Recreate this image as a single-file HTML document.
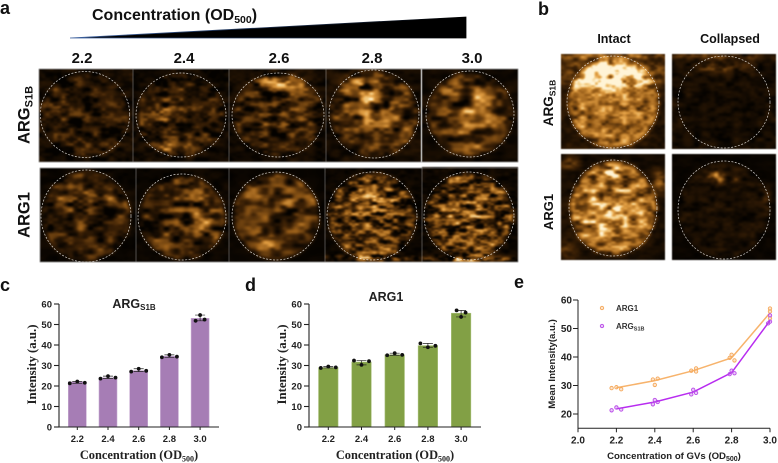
<!DOCTYPE html>
<html lang="en">
<head>
<meta charset="utf-8">
<title>Concentration-dependent ultrasound intensity figure</title>
<style>
html,body{margin:0;padding:0;background:#fff;}
#figure{position:relative;width:778px;height:463px;overflow:hidden;background:#fff;font-family:"Liberation Sans",sans-serif;}
#figure canvas{position:absolute;display:block;filter:blur(0.5px);}
#overlay{position:absolute;left:0;top:0;filter:blur(0.3px);}
</style>
</head>
<body>
<div id="figure">
<svg id="overlay" width="778" height="463" viewBox="0 0 778 463" xmlns="http://www.w3.org/2000/svg">
  <defs>
    <linearGradient id="wedgeEdge" x1="0" x2="1" y1="0" y2="0">
      <stop offset="0" stop-color="#3a5f9e"/><stop offset="1" stop-color="#000"/>
    </linearGradient>
  </defs>
  <g font-family="'Liberation Sans',sans-serif" fill="#111">
    <text x="0" y="14" font-size="18" font-weight="bold">a</text>
    <text x="538" y="15" font-size="18" font-weight="bold">b</text>
    <text x="0" y="291" font-size="18" font-weight="bold">c</text>
    <text x="245" y="291" font-size="18" font-weight="bold">d</text>
    <text x="514" y="288" font-size="18" font-weight="bold">e</text>

    <text x="92" y="20" font-size="16" font-weight="bold">Concentration (OD<tspan font-size="10.5" dy="3">500</tspan><tspan dy="-3">)</tspan></text>
    <polygon points="70,38 466,17 466,38" fill="#000" stroke="url(#wedgeEdge)" stroke-width="0.8"/>

    <g font-size="15" font-weight="bold" text-anchor="middle">
      <text x="82" y="63">2.2</text>
      <text x="184" y="63">2.4</text>
      <text x="279" y="63">2.6</text>
      <text x="372" y="63">2.8</text>
      <text x="472" y="63">3.0</text>
    </g>
    <text transform="translate(29.5,115) rotate(-90)" text-anchor="middle" font-size="16.5" font-weight="bold">ARG<tspan font-size="11" dy="3">S1B</tspan></text>
    <text transform="translate(29.5,215) rotate(-90)" text-anchor="middle" font-size="16.5" font-weight="bold">ARG1</text>

    <text x="614" y="43" text-anchor="middle" font-size="12.5" font-weight="bold">Intact</text>
    <text x="730" y="43" text-anchor="middle" font-size="12.5" font-weight="bold">Collapsed</text>
    <text transform="translate(553,103) rotate(-90)" text-anchor="middle" font-size="13.5" font-weight="bold">ARG<tspan font-size="8.5" dy="2.5">S1B</tspan></text>
    <text transform="translate(553,212) rotate(-90)" text-anchor="middle" font-size="13" font-weight="bold">ARG1</text>
  </g>
  <g id="circles"></g>
  <g id="chart-c"></g>
  <g id="chart-d"></g>
  <g id="chart-e"></g>
</svg>
</div>

<script>
/* ---------- chart data ---------- */
var categories = ["2.2", "2.4", "2.6", "2.8", "3.0"];
var yTicksBar = [0, 10, 20, 30, 40, 50, 60];
var args1bMeans = [22, 24, 27.5, 34.5, 53];
var args1bReps = [[21.3, 22.2, 21.6], [23.6, 24.8, 24.1], [27, 28.4, 27.4], [34, 35.2, 34.3], [51.8, 54.6, 52.4]];
var arg1Means = [29, 31.7, 35.2, 39.7, 55.5];
var arg1Reps = [[28.8, 29.5, 29.1], [32.4, 30.3, 32.1], [35, 36, 35.2], [40.8, 38.9, 39.6], [56.9, 53.7, 55.8]];

var lineXTicks = [2.0, 2.2, 2.4, 2.6, 2.8, 3.0];
var lineYTicks = [20, 30, 40, 50, 60];
var lineX = [2.2, 2.4, 2.6, 2.8, 3.0];
var arg1Line = [29.2, 31.7, 35.2, 39.7, 55.5];
var args1bLine = [21.8, 24.2, 27.7, 34.5, 52.8];
var arg1ScatterX = [2.175, 2.2, 2.225, 2.39, 2.4, 2.415, 2.59, 2.615, 2.615, 2.79, 2.8, 2.815, 3.0, 3.0, 3.0];
var arg1ScatterY = [29.1, 29.4, 28.7, 32.1, 30.2, 32.4, 35.2, 36, 34.9, 39.7, 40.8, 38.8, 57, 56, 53.6];
var args1bScatterX = [2.175, 2.2, 2.225, 2.39, 2.4, 2.415, 2.59, 2.6, 2.615, 2.79, 2.8, 2.815, 2.99, 3.0, 3.0];
var args1bScatterY = [21.3, 22.3, 21.6, 23.4, 24.9, 24.2, 26.9, 28.5, 27.4, 34, 35.2, 34.3, 51.8, 54.6, 52.4];

/* ---------- svg helper ---------- */
var NS = "http://www.w3.org/2000/svg";
function mk(tag, attrs, parent) {
  var el = document.createElementNS(NS, tag);
  for (var k in attrs) el.setAttribute(k, attrs[k]);
  parent.appendChild(el);
  return el;
}

/* ---------- bar charts ---------- */
function drawBarChart(group, o) {
  function yS(v) { return o.y0 - v * (o.y0 - o.y60) / 60; }
  function xS(i) { return o.xFirst + i * o.step; }
  var g = document.getElementById(group);
  for (var i = 0; i < categories.length; i++) {
    var bar = mk("rect", {x: xS(i) - o.barW / 2, y: yS(o.means[i]), width: o.barW, height: o.y0 - yS(o.means[i]), fill: o.color, stroke: o.edge, "stroke-width": 0.6}, g);
    
    
    var reps = o.reps[i], lo = Math.min.apply(null, reps), hi = Math.max.apply(null, reps);
    var err = mk("path", {d: "M" + (xS(i) - 5) + " " + yS(lo) + "H" + (xS(i) + 5) + "M" + xS(i) + " " + yS(lo) + "V" + yS(hi) + "M" + (xS(i) - 5) + " " + yS(hi) + "H" + (xS(i) + 5), fill: "none", stroke: "#222", "stroke-width": 0.7}, g);
    
    
    var spread = i === categories.length - 1 ? 4.5 : 7.5;
    for (var j = 0; j < reps.length; j++) {
      var dot = mk("circle", {cx: xS(i) + (j - 1) * spread, cy: yS(reps[j]), r: 1.9, fill: "#111"}, g);
      
      
    }
    var lab = mk("text", {x: xS(i), y: o.y0 + 15, "text-anchor": "middle", "font-size": 9.5, "font-weight": "bold", "font-family": "'Liberation Sans',sans-serif", fill: "#222"}, g);
    lab.textContent = categories[i];
    
    
    var xt = mk("line", {x1: xS(i), x2: xS(i), y1: o.y0, y2: o.y0 + 3, stroke: "#222", "stroke-width": 1}, g);
    
    
  }
  var ax = mk("path", {d: "M" + o.axisX + " " + o.y60 + "V" + o.y0 + "H" + o.xEnd, fill: "none", stroke: "#222", "stroke-width": 1.1}, g);
  
  
  for (var t = 0; t < yTicksBar.length; t++) {
    var tick = mk("line", {x1: o.axisX - 5, x2: o.axisX, y1: yS(yTicksBar[t]), y2: yS(yTicksBar[t]), stroke: "#222", "stroke-width": 1.1}, g);
    
    
    var tl = mk("text", {x: o.axisX - 7, y: yS(yTicksBar[t]) + 3.4, "text-anchor": "end", "font-size": 9.5, "font-weight": "bold", "font-family": "'Liberation Sans',sans-serif", fill: "#222"}, g);
    tl.textContent = yTicksBar[t];
    
    
  }
  var yTitle = mk("text", {transform: "translate(" + (o.axisX - 23) + "," + ((o.y0 + o.y60) / 2 - 1) + ") rotate(-90)", "text-anchor": "middle", "font-size": 12.8, "font-weight": "bold", "font-family": "'Liberation Serif',serif", fill: "#222"}, g);
  yTitle.textContent = "Intensity (a.u.)";
  
  
  var xTitle = mk("text", {x: o.xTitle, y: o.y0 + 32, "text-anchor": "middle", "font-size": 12.4, "font-weight": "bold", "font-family": "'Liberation Serif',serif", fill: "#222"}, g);
  xTitle.appendChild(document.createTextNode("Concentration (OD"));
  var sub = mk("tspan", {"font-size": 8, dy: 2.5}, xTitle);
  sub.textContent = "500";
  var close = mk("tspan", {dy: -2.5}, xTitle);
  close.textContent = ")";
  
  
  var title = mk("text", {x: o.titleX, y: o.titleY, "text-anchor": "middle", "font-size": 12.5, "font-weight": "bold", "font-family": "'Liberation Sans',sans-serif", fill: "#222"}, g);
  title.appendChild(document.createTextNode("ARG"));
  if (o.titleSub) {
    var ts = mk("tspan", {"font-size": 8, dy: 2}, title);
    ts.textContent = o.titleSub;
  } else {
    title.appendChild(document.createTextNode("1"));
  }
  
  
}
drawBarChart("chart-c", {means: args1bMeans, reps: args1bReps, color: "#a67db5", edge: "#c9acd3", barW: 18, xFirst: 77.3, step: 30.7, y0: 427, y60: 304, axisX: 59, xEnd: 219, xTitle: 139, titleX: 134, titleY: 308, titleSub: "S1B"});
drawBarChart("chart-d", {means: arg1Means, reps: arg1Reps, color: "#82a045", edge: "#a9c07a", barW: 19.5, xFirst: 328.3, step: 33.2, y0: 427, y60: 304, axisX: 309, xEnd: 481, xTitle: 395, titleX: 386, titleY: 301, titleSub: ""});

/* ---------- line chart ---------- */
(function () {
  var g = document.getElementById("chart-e");
  function xS(v) { return 578 + (v - 2) * 192; }
  function yS(v) { return 414 - (v - 20) * 2.85; }
  var yBottom = 428.3;
  function series(xs, ys, sx, sy, col, light) {
    var d = "";
    for (var i = 0; i < xs.length; i++) d += (i ? "L" : "M") + xS(xs[i]) + " " + yS(ys[i]);
    var line = mk("path", {d: d, fill: "none", stroke: col, "stroke-width": 1.5}, g);
    
    
    for (var j = 0; j < sx.length; j++) {
      var pt = mk("circle", {cx: xS(sx[j]), cy: yS(sy[j]), r: 1.7, fill: light, "fill-opacity": 0.3, stroke: light, "stroke-width": 0.9}, g);
      
      
    }
  }
  series(lineX, arg1Line, arg1ScatterX, arg1ScatterY, "#f7b36c", "#f5a95c");
  series(lineX, args1bLine, args1bScatterX, args1bScatterY, "#b82cf0", "#b94be8");

  var ax = mk("path", {d: "M" + xS(2) + " " + yS(60) + "V" + yBottom + "H" + xS(3), fill: "none", stroke: "#222", "stroke-width": 1}, g);
  
  
  lineYTicks.forEach(function (t) {
    var tk = mk("line", {x1: xS(2) - 5, x2: xS(2), y1: yS(t), y2: yS(t), stroke: "#222", "stroke-width": 1}, g);
    
    
    var lb = mk("text", {x: xS(2) - 6, y: yS(t) + 3.5, "text-anchor": "end", "font-size": 10, "font-weight": "bold", "font-family": "'Liberation Sans',sans-serif", fill: "#222"}, g);
    lb.textContent = t;
    
    
  });
  lineXTicks.forEach(function (t) {
    var tk = mk("line", {x1: xS(t), x2: xS(t), y1: yBottom, y2: yBottom + 4, stroke: "#222", "stroke-width": 1}, g);
    
    
    var lb = mk("text", {x: xS(t), y: yBottom + 15, "text-anchor": "middle", "font-size": 10, "font-weight": "bold", "font-family": "'Liberation Sans',sans-serif", fill: "#222"}, g);
    lb.textContent = t.toFixed(1);
    
    
  });
  var yTitle = mk("text", {transform: "translate(555,364) rotate(-90)", "text-anchor": "middle", "font-size": 9.6, "font-weight": "bold", "font-family": "'Liberation Sans',sans-serif", fill: "#222"}, g);
  yTitle.textContent = "Mean Intensity(a.u.)";
  
  
  var xTitle = mk("text", {x: 674, y: 459, "text-anchor": "middle", "font-size": 9.6, "font-weight": "bold", "font-family": "'Liberation Sans',sans-serif", fill: "#222"}, g);
  xTitle.appendChild(document.createTextNode("Concentration of GVs (OD"));
  var s = mk("tspan", {"font-size": 7, dy: 2}, xTitle);
  s.textContent = "500";
  var c = mk("tspan", {dy: -2}, xTitle);
  c.textContent = ")";
  
  

  var m1 = mk("circle", {cx: 602, cy: 308, r: 1.7, fill: "#f5a95c", "fill-opacity": 0.3, stroke: "#f5a95c", "stroke-width": 0.9}, g);
  
  
  var t1 = mk("text", {x: 616, y: 311, "font-size": 8, "font-weight": "bold", "font-family": "'Liberation Sans',sans-serif", fill: "#333"}, g);
  t1.textContent = "ARG1";
  
  
  var m2 = mk("circle", {cx: 602, cy: 326, r: 1.7, fill: "#b94be8", "fill-opacity": 0.3, stroke: "#b94be8", "stroke-width": 0.9}, g);
  
  
  var t2 = mk("text", {x: 616, y: 329, "font-size": 8, "font-weight": "bold", "font-family": "'Liberation Sans',sans-serif", fill: "#333"}, g);
  t2.appendChild(document.createTextNode("ARG"));
  var ts = mk("tspan", {"font-size": 5.5, dy: 1.5}, t2);
  ts.textContent = "S1B";
  
  
})();

/* ---------- ultrasound image textures ---------- */
function prng(seed) {
  return function () {
    seed |= 0; seed = seed + 0x6D2B79F5 | 0;
    var t = Math.imul(seed ^ seed >>> 15, 1 | seed);
    t = t + Math.imul(t ^ t >>> 7, 61 | t) ^ t;
    return ((t ^ t >>> 14) >>> 0) / 4294967296;
  };
}
function makeNoise(w, h, cw, ch, seed) {
  var r = prng(seed), gw = Math.ceil(w / cw) + 2, gh = Math.ceil(h / ch) + 2, grid = [];
  for (var i = 0; i < gw * gh; i++) grid.push(r());
  function sm(t) { return t * t * (3 - 2 * t); }
  return function (x, y) {
    var fx = x / cw, fy = y / ch, ix = Math.floor(fx), iy = Math.floor(fy), tx = sm(fx - ix), ty = sm(fy - iy);
    var a = grid[iy * gw + ix], b = grid[iy * gw + ix + 1], c = grid[(iy + 1) * gw + ix], d = grid[(iy + 1) * gw + ix + 1];
    return (a + (b - a) * tx) * (1 - ty) + (c + (d - c) * tx) * ty;
  };
}
function colormap(v) {
  var stops = [[0, 4, 2, 0], [0.25, 62, 34, 6], [0.5, 150, 92, 24], [0.75, 226, 158, 66], [0.9, 246, 210, 140], [1, 255, 244, 214]];
  v = Math.max(0, Math.min(1, v));
  for (var i = 1; i < stops.length; i++) {
    if (v <= stops[i][0]) {
      var a = stops[i - 1], b = stops[i], t = (v - a[0]) / (b[0] - a[0]);
      return [a[1] + (b[1] - a[1]) * t, a[2] + (b[2] - a[2]) * t, a[3] + (b[3] - a[3]) * t];
    }
  }
  return [255, 244, 214];
}
/* x,y,w,h: image rect; cx,cy,rx,ry: dashed circle; fill: in-circle level; bg: outside level;
   cw,ch: speckle size; k: speckle contrast; blobs: [x,y,rx,ry,amp] in page px */
var panels = [
 {n:"args1b-2-2",x:39,y:69,w:94,h:93,cx:85,cy:114.5,rx:44.7,ry:43,fill:.16,bg:.08,cw:8,ch:5,k:3.4,seed:11,blobs:[[60,115,18,14,.06],[95,140,20,10,.05]]},
 {n:"args1b-2-4",x:133,y:69,w:96,h:93,cx:181,cy:115,rx:45,ry:42,fill:.18,bg:.06,cw:8,ch:5,k:3.4,seed:22,blobs:[[165,110,18,14,.12],[172,147,18,7,.18]]},
 {n:"args1b-2-6",x:229,y:69,w:97,h:93,cx:278,cy:115,rx:46,ry:42,fill:.19,bg:.06,cw:9,ch:5,k:3.4,seed:33,blobs:[[280,84,26,10,.22],[285,120,25,14,.06]]},
 {n:"args1b-2-8",x:326,y:69,w:95,h:93,cx:374,cy:114,rx:45,ry:44,fill:.24,bg:.07,cw:10,ch:6,k:3,seed:44,blobs:[[362,88,18,15,.33],[380,115,26,12,.27],[390,148,20,8,.02]]},
 {n:"args1b-3-0",x:422,y:69,w:96,h:93,cx:470,cy:114,rx:44,ry:43,fill:.27,bg:.05,cw:11,ch:7,k:2.6,seed:55,blobs:[[470,112,25,30,.22]]},
 {n:"arg1-2-2",x:40,y:168,w:96,h:94,cx:86,cy:216,rx:45,ry:46,fill:.2,bg:.03,cw:10,ch:6,k:3,seed:66,blobs:[[84,200,34,10,.2],[86,225,12,20,.05]]},
 {n:"arg1-2-4",x:136,y:168,w:93,h:94,cx:182,cy:217,rx:44,ry:43,fill:.22,bg:.03,cw:10,ch:6,k:3,seed:77,blobs:[[190,205,24,22,.18],[205,225,14,16,.08]]},
 {n:"arg1-2-6",x:229,y:168,w:96,h:94,cx:276,cy:216,rx:44,ry:44,fill:.26,bg:.02,cw:12,ch:7,k:2.6,seed:88,blobs:[[275,195,25,11,.18],[270,240,22,10,.2],[300,220,14,12,.12]]},
 {n:"arg1-2-8",x:325,y:168,w:97,h:94,cx:372,cy:216,rx:45,ry:44,fill:.28,bg:.03,cw:7,ch:3.5,k:3.6,seed:99,blobs:[[375,205,26,22,.12],[375,258,50,4,.3]]},
 {n:"arg1-3-0",x:422,y:167,w:96,h:95,cx:469,cy:216,rx:45,ry:44,fill:.3,bg:.04,cw:7,ch:3.5,k:3.6,seed:111,blobs:[[470,210,30,30,.06],[470,259,50,3,.45]]},
 {n:"intact-args1b",x:561,y:54,w:104,h:95,cx:613,cy:102,rx:46,ry:46,fill:.5,bg:.13,cw:7,ch:4.5,k:1.5,seed:122,blobs:[[613,74,42,17,.6],[613,56,60,3,.35],[613,125,28,20,.06]]},
 {n:"collapsed-args1b",x:672,y:54,w:104,h:95,cx:724,cy:102,rx:46,ry:46,fill:.08,bg:.08,cw:8,ch:5,k:2.6,seed:133,blobs:[[720,66,26,6,.22],[720,56,60,3,.18]]},
 {n:"intact-arg1",x:561,y:154,w:104,h:106,cx:613,cy:208,rx:44,ry:48,fill:.47,bg:.07,cw:8,ch:4.5,k:1.7,seed:144,blobs:[[611,172,9,6,.5],[613,212,36,26,.28],[660,180,8,10,.35],[568,162,10,7,.3],[565,250,12,10,.2]]},
 {n:"collapsed-arg1",x:672,y:154,w:104,h:106,cx:724,cy:210,rx:46,ry:49,fill:.09,bg:.025,cw:8,ch:5,k:2.6,seed:155,blobs:[[716,177,8,7,.35],[730,178,8,5,.12],[767,195,5,10,.14]]}
];
(function () {
  var fig = document.getElementById("figure");
  var overlay = document.getElementById("overlay");
  var circles = document.getElementById("circles");
  panels.forEach(function (p) {
    var cv = document.createElement("canvas");
    cv.width = p.w; cv.height = p.h;
    cv.style.left = p.x + "px"; cv.style.top = p.y + "px";
    
    
    fig.insertBefore(cv, overlay);
    var ctx = cv.getContext("2d"), img = ctx.createImageData(p.w, p.h);
    var n1 = makeNoise(p.w, p.h, p.cw, p.ch, p.seed), n2 = makeNoise(p.w, p.h, p.cw / 2, p.ch / 2, p.seed + 1);
    for (var yy = 0; yy < p.h; yy++) for (var xx = 0; xx < p.w; xx++) {
      var X = p.x + xx, Y = p.y + yy;
      var d = Math.sqrt(Math.pow((X - p.cx) / p.rx, 2) + Math.pow((Y - p.cy) / p.ry, 2));
      var inside = Math.max(0, Math.min(1, (1.05 - d) / 0.14));
      var level = p.bg + (p.fill - p.bg) * inside;
      p.blobs.forEach(function (b) {
        level += b[4] * Math.exp(-(Math.pow((X - b[0]) / b[2], 2) + Math.pow((Y - b[1]) / b[3], 2)));
      });
      var n = 0.68 * n1(xx, yy) + 0.32 * n2(xx, yy);
      var tex = Math.max(0, 1 + p.k * (n - 0.5));
      var c = colormap(level * tex);
      var k = (yy * p.w + xx) * 4;
      img.data[k] = c[0]; img.data[k + 1] = c[1]; img.data[k + 2] = c[2]; img.data[k + 3] = 255;
    }
    ctx.putImageData(img, 0, 0);
    var ring = mk("ellipse", {cx: p.cx, cy: p.cy, rx: p.rx, ry: p.ry, fill: "none", stroke: "#f4f2ee", "stroke-opacity": 0.85, "stroke-width": 0.7, "stroke-dasharray": "2 1.5"}, circles);
    
    
  });
  var frames = [[39, 69, 479, 93], [40, 168, 478, 94]];
  frames.forEach(function (f) {
    var frame = mk("rect", {x: f[0], y: f[1], width: f[2], height: f[3], fill: "none", stroke: "rgba(150,150,150,.7)", "stroke-width": 0.7}, circles);
    
    
  });
  var sep = mk("line", {x1: 421.5, x2: 421.5, y1: 69, y2: 162, stroke: "#bbb", "stroke-width": 0.8}, circles);
  
  
})();
</script>
</body>
</html>
